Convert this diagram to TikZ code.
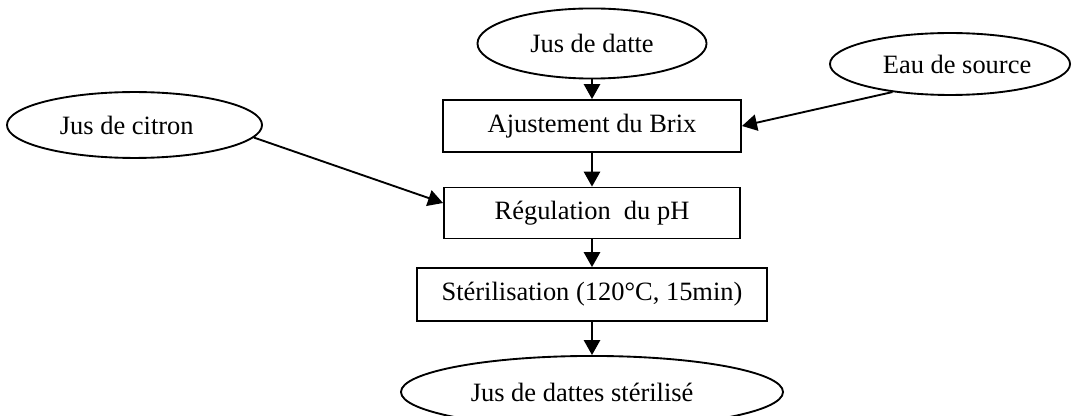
\documentclass[tikz,border=0pt]{standalone}
\usepackage{fontspec}
\setmainfont{Liberation Serif}
\usetikzlibrary{shapes.geometric,arrows.meta,calc}
\begin{document}
\begin{tikzpicture}[x=0.4536pt,y=-0.4536pt,
  base/.style={draw, line width=0.85pt, inner sep=0pt,
    font=\fontsize{12pt}{14pt}\selectfont},
  stepbox/.style={base, rectangle},
  oval/.style={base, ellipse},
  flow/.style={line width=0.85pt, -{Triangle[length=6.8pt,width=7.4pt]}}]
\useasboundingbox (0,0) rectangle (1073,416);

% inputs
\node[oval, minimum width=103.9pt, minimum height=31.8pt] (datte) at (592,43.5) {Jus de datte};
\node[oval, minimum width=108.9pt, minimum height=28.1pt] (eau) at (950,64) {\hspace*{6.4pt}Eau de source};
\node[oval, minimum width=115.7pt, minimum height=29.9pt] (citron) at (134.5,125) {Jus de citron\hspace*{7pt}};

% process steps
\node[stepbox, minimum width=135.2pt, minimum height=23.6pt] (ajust) at (592,126) {Ajustement du Brix};
\node[stepbox, minimum width=134.3pt, minimum height=23.1pt] (reg) at (592,213) {Régulation\ \ du pH};
\node[stepbox, minimum width=158.8pt, minimum height=24pt] (ster) at (592,294.5) {Stérilisation (120°C, 15min)};

% product
\node[oval, minimum width=173.3pt, minimum height=32.7pt] (final) at (592,392) {Jus de dattes stérilisé\hspace*{9pt}};

% connectors
\draw[flow] (datte) -- (ajust);
\draw[flow] (eau.206.6) -- (ajust.east);
\draw[flow] (ajust) -- (reg);
\draw[flow] (citron.-6.3) -- ($(reg.west)+(0,-10)$);
\draw[flow] (reg) -- (ster);
\draw[flow] (ster) -- (final);
\end{tikzpicture}
\end{document}
